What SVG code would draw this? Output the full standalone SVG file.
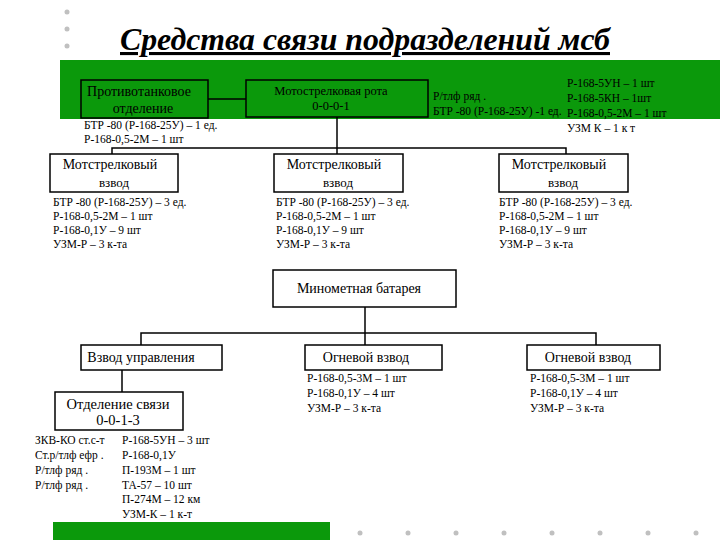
<svg xmlns="http://www.w3.org/2000/svg" width="720" height="540" viewBox="0 0 720 540">
<style>
.t{font-family:"Liberation Serif","Times New Roman",serif;fill:#000}
.s{font-size:11.5px}
.b{font-size:14px}
.g{fill:#0b990b;stroke:#000;stroke-width:1.5}
.w{fill:#fff;stroke:#000;stroke-width:1.5}
.ln{stroke:#000;stroke-width:1.5;fill:none}
.dot{fill:#c0c0c0}
</style>
<rect width="720" height="540" fill="#fff"/>
<g id="decor">
<circle class="dot" cx="67" cy="12" r="2.5"/>
<circle class="dot" cx="67" cy="29" r="2.5"/>
<circle class="dot" cx="67" cy="46" r="2.5"/>
<rect x="60" y="60" width="660" height="59" fill="#0b990b"/>
<rect x="53" y="522" width="277" height="18" fill="#0b990b"/>
<circle class="dot" cx="360" cy="533" r="2.5"/>
<circle class="dot" cx="408" cy="533" r="2.5"/>
<circle class="dot" cx="456" cy="533" r="2.5"/>
<circle class="dot" cx="504" cy="533" r="2.5"/>
<circle class="dot" cx="552" cy="533" r="2.5"/>
<circle class="dot" cx="600" cy="533" r="2.5"/>
<circle class="dot" cx="648" cy="533" r="2.5"/>
<circle class="dot" cx="696" cy="533" r="2.5"/>
</g>
<text id="title" class="t" x="365" y="50" text-anchor="middle" font-size="31" font-weight="bold" font-style="italic" text-decoration="underline" textLength="490" lengthAdjust="spacingAndGlyphs">Средства связи подразделений мсб</text>
<g id="connectors">
<line class="ln" x1="208" y1="99" x2="246" y2="99"/>
<line class="ln" x1="337" y1="117" x2="337" y2="148"/>
<polyline class="ln" points="112,154 112,148 566,148 566,154"/>
<line class="ln" x1="337" y1="148" x2="337" y2="154"/>
<line class="ln" x1="365" y1="307" x2="365" y2="333"/>
<polyline class="ln" points="141,345 141,333 596,333 596,345"/>
<line class="ln" x1="365" y1="333" x2="365" y2="345"/>
<line class="ln" x1="122" y1="370" x2="122" y2="392"/>
</g>
<g id="at">
<rect class="g" x="81" y="80" width="127" height="38"/>
<text class="t b" x="139" y="96" text-anchor="middle">Противотанковое</text>
<text class="t b" x="143" y="113" text-anchor="middle">отделение</text>
<text class="t s" x="84" y="129">БТР -80 (Р-168-25У) – 1 ед.</text>
<text class="t s" x="84" y="143">Р-168-0,5-2М – 1 шт</text>
</g>
<g id="rota">
<rect class="g" x="246" y="80" width="182" height="37"/>
<text class="t" font-size="12.5" x="331" y="95" text-anchor="middle">Мотострелковая рота</text>
<text class="t" font-size="12.5" x="331" y="110" text-anchor="middle">0-0-0-1</text>
<text class="t s" x="433" y="100">Р/тлф ряд .</text>
<text class="t s" x="433" y="115">БТР -80 (Р-168-25У) -1 ед.</text>
<text class="t s" x="567" y="87">Р-168-5УН – 1 шт</text>
<text class="t s" x="567" y="102">Р-168-5КН – 1шт</text>
<text class="t s" x="567" y="117">Р-168-0,5-2М – 1 шт</text>
<text class="t s" x="567" y="132">УЗМ К – 1 к т</text>
</g>
<g id="vzvod1">
<rect class="w" x="50" y="154" width="128" height="38"/>
<text class="t" font-size="14" x="110" y="169" text-anchor="middle">Мотстрелковый</text>
<text class="t" font-size="13" x="114" y="187" text-anchor="middle">взвод</text>
<text class="t s" x="53" y="206">БТР -80 (Р-168-25У) – 3 ед.</text>
<text class="t s" x="53" y="220">Р-168-0,5-2М – 1 шт</text>
<text class="t s" x="53" y="234">Р-168-0,1У – 9 шт</text>
<text class="t s" x="53" y="248">УЗМ-Р – 3 к-та</text>
</g>
<g id="vzvod2">
<rect class="w" x="274" y="154" width="129" height="38"/>
<text class="t" font-size="14" x="334" y="169" text-anchor="middle">Мотстрелковый</text>
<text class="t" font-size="13" x="338" y="187" text-anchor="middle">взвод</text>
<text class="t s" x="276" y="206">БТР -80 (Р-168-25У) – 3 ед.</text>
<text class="t s" x="276" y="220">Р-168-0,5-2М – 1 шт</text>
<text class="t s" x="276" y="234">Р-168-0,1У – 9 шт</text>
<text class="t s" x="276" y="248">УЗМ-Р – 3 к-та</text>
</g>
<g id="vzvod3">
<rect class="w" x="499" y="154" width="129" height="38"/>
<text class="t" font-size="14" x="559" y="169" text-anchor="middle">Мотстрелковый</text>
<text class="t" font-size="13" x="563" y="187" text-anchor="middle">взвод</text>
<text class="t s" x="499" y="206">БТР -80 (Р-168-25У) – 3 ед.</text>
<text class="t s" x="499" y="220">Р-168-0,5-2М – 1 шт</text>
<text class="t s" x="499" y="234">Р-168-0,1У – 9 шт</text>
<text class="t s" x="499" y="248">УЗМ-Р – 3 к-та</text>
</g>
<g id="battery">
<rect class="w" x="273" y="270" width="183" height="37"/>
<text class="t b" x="359" y="293" text-anchor="middle">Минометная батарея</text>
</g>
<g id="upr">
<rect class="w" x="81" y="345" width="141" height="25"/>
<text class="t b" x="141" y="362" text-anchor="middle">Взвод управления</text>
</g>
<g id="og1">
<rect class="w" x="305" y="345" width="137" height="25"/>
<text class="t b" x="366" y="362" text-anchor="middle">Огневой взвод</text>
<text class="t s" x="307" y="382">Р-168-0,5-3М – 1 шт</text>
<text class="t s" x="307" y="397">Р-168-0,1У – 4 шт</text>
<text class="t s" x="307" y="412">УЗМ-Р – 3 к-та</text>
</g>
<g id="og2">
<rect class="w" x="527" y="345" width="133" height="25"/>
<text class="t b" x="588" y="362" text-anchor="middle">Огневой взвод</text>
<text class="t s" x="530" y="382">Р-168-0,5-3М – 1 шт</text>
<text class="t s" x="530" y="397">Р-168-0,1У – 4 шт</text>
<text class="t s" x="530" y="412">УЗМ-Р – 3 к-та</text>
</g>
<g id="svyaz">
<rect class="w" x="55" y="392" width="128" height="38"/>
<text class="t" font-size="14.5" x="118" y="409" text-anchor="middle">Отделение связи</text>
<text class="t" font-size="14.5" x="118" y="425" text-anchor="middle">0-0-1-3</text>
<text class="t s" x="35" y="444">ЗКВ-КО ст.с-т</text>
<text class="t s" x="35" y="459">Ст.р/тлф ефр .</text>
<text class="t s" x="35" y="474">Р/тлф ряд .</text>
<text class="t s" x="35" y="489">Р/тлф ряд .</text>
<text class="t s" x="122" y="444">Р-168-5УН – 3 шт</text>
<text class="t s" x="122" y="459">Р-168-0,1У</text>
<text class="t s" x="122" y="474">П-193М – 1 шт</text>
<text class="t s" x="122" y="489">ТА-57 – 10 шт</text>
<text class="t s" x="122" y="503">П-274М – 12 км</text>
<text class="t s" x="122" y="518">УЗМ-К – 1 к-т</text>
</g>
</svg>
